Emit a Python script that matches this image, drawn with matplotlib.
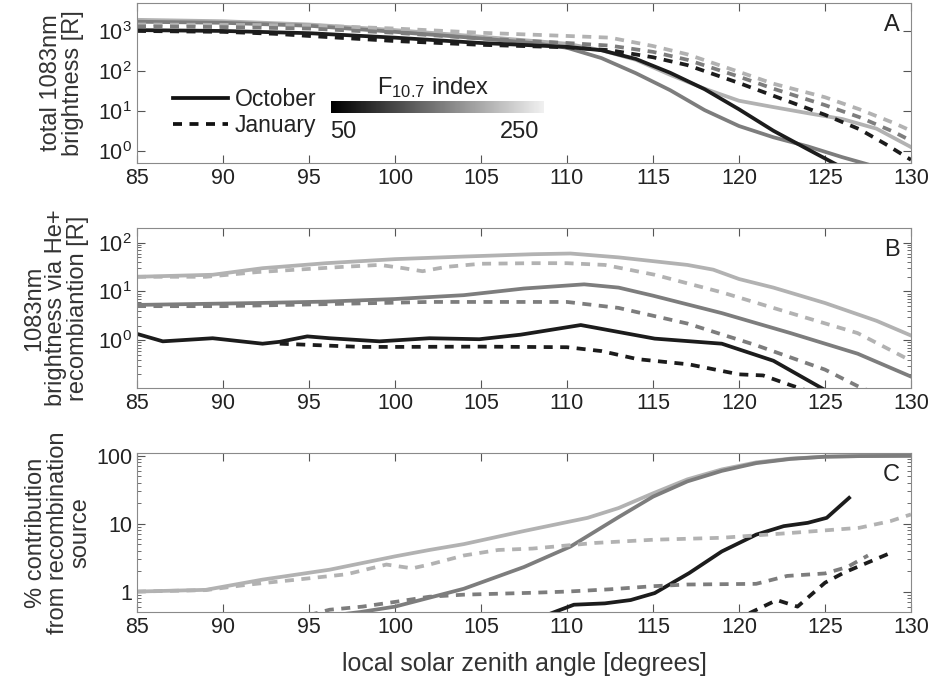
import numpy as np
from matplotlib import pyplot as plt
from matplotlib.lines import Line2D
from matplotlib import ticker

plt.rcParams['font.family'] = ['Liberation Sans', 'DejaVu Sans']
plt.rcParams['mathtext.fontset'] = 'custom'
plt.rcParams['mathtext.rm'] = 'Liberation Sans'
plt.rcParams['mathtext.it'] = 'Liberation Sans'

# F10.7 levels -> grey shade
f107_levels = [50, 150, 250]
shade = {50: '#1c1c1c', 150: '#7d7d7d', 250: '#b2b2b2'}

# ---- panel A: total 1083nm brightness [R] ----
a_oct_50_x = [85, 90, 95, 100, 105, 110, 112, 114, 116, 118, 120, 122, 124, 125.5, 126.5]
a_oct_50 = [1050, 1000, 880, 680, 500, 400, 330, 200, 90, 35, 11, 3.2, 1.1, 0.5, 0.3]
a_oct_150_x = [85, 90, 95, 100, 105, 108, 110, 112, 114, 116, 118, 120, 122, 124, 126, 128]
a_oct_150 = [1700, 1600, 1350, 950, 650, 500, 380, 210, 88, 33, 10.5, 4.2, 2.2, 1.3, 0.7, 0.4]
a_oct_250_x = [85, 90, 95, 100, 105, 110, 112, 114, 116, 118, 120, 122, 124, 126, 128, 130]
a_oct_250 = [1900, 1750, 1450, 1050, 720, 480, 330, 190, 80, 36, 18, 12.5, 8.8, 6.3, 3.6, 1.25]
a_jan_50_x = [85, 90, 93, 95, 100, 105, 110, 112.5, 115, 117, 120, 122, 125, 127, 128.5, 130]
a_jan_50 = [1000, 950, 850, 750, 560, 450, 390, 330, 220, 140, 50, 24, 8, 3.5, 1.5, 0.6]
a_jan_150_x = [85, 90, 95, 100, 105, 110, 112.5, 115, 117, 120, 122, 125, 127, 129, 130]
a_jan_150 = [1300, 1250, 1150, 900, 650, 500, 430, 300, 190, 72, 36, 14, 7, 3, 1.8]
a_jan_250_x = [85, 90, 95, 100, 105, 110, 112.5, 115, 117, 120, 122, 125, 127, 129, 130]
a_jan_250 = [1450, 1420, 1380, 1150, 900, 750, 680, 420, 260, 95, 48, 22, 11, 5, 3.2]

# ---- panel B: 1083nm brightness via He+ recombination [R] ----
b_oct_50_x = [85, 86.5, 89.4, 92.3, 93.3, 94.9, 96.2, 99.1, 102, 104.9, 107.3, 110.8, 115.1, 119, 122, 124.9, 125.5]
b_oct_50 = [1.35, 0.95, 1.1, 0.85, 0.93, 1.2, 1.1, 0.95, 1.1, 1.05, 1.3, 2.05, 1.08, 0.85, 0.38, 0.1, 0.08]
b_oct_150_x = [85, 92, 96, 100, 104, 107.5, 111, 113, 115, 119, 123, 126.9, 130]
b_oct_150 = [5.3, 5.8, 6.2, 7.0, 8.4, 11.5, 14, 12, 8.2, 3.6, 1.4, 0.53, 0.18]
b_oct_250_x = [85, 89.4, 92.3, 96, 100, 104, 108, 110.2, 113, 117, 118.5, 120, 122, 125, 128, 130]
b_oct_250 = [20, 22, 30, 38, 46, 52, 58, 60, 50, 35, 28, 18, 12, 5.8, 2.5, 1.25]
b_jan_50_x = [93.3, 95.2, 98, 100, 105, 110, 112, 114.1, 117.1, 120, 121.4, 123, 124.5]
b_jan_50 = [0.85, 0.8, 0.73, 0.73, 0.74, 0.72, 0.6, 0.41, 0.32, 0.2, 0.19, 0.12, 0.08]
b_jan_150_x = [85, 90, 96, 102, 110, 113, 117, 121, 125, 127, 128]
b_jan_150 = [5.0, 5.0, 5.5, 6.1, 6.1, 4.6, 2.2, 0.79, 0.25, 0.11, 0.08]
b_jan_250_x = [85, 89, 92, 94.3, 97, 99.1, 100.5, 101.6, 103, 105, 108, 110, 112.2, 115.1, 119, 123, 126.9, 130]
b_jan_250 = [20, 20, 25, 28, 32, 35, 30, 26, 32, 37, 38, 38, 35, 22, 9.6, 3.6, 1.4, 0.38]

# ---- panel C: % contribution from recombination source ----
c_oct_50_x = [109, 110.4, 112.2, 113.7, 115.1, 117.1, 119, 121, 122.6, 124, 125.1, 126.4]
c_oct_50 = [0.47, 0.64, 0.67, 0.75, 0.95, 1.87, 3.9, 6.9, 9.2, 10.3, 12.2, 24]
c_oct_150_x = [96.5, 98, 100, 104, 107.5, 110.2, 113, 115, 117, 119, 121, 123, 125, 127, 130]
c_oct_150 = [0.45, 0.5, 0.6, 1.1, 2.3, 4.6, 12.5, 25, 42, 60, 78, 90, 97, 99, 100]
c_oct_250_x = [85, 89, 92.3, 96.2, 100, 102, 104, 107.5, 111.2, 113, 115, 117, 119, 121, 123, 125, 127, 130]
c_oct_250 = [1.0, 1.06, 1.5, 2.1, 3.3, 4.1, 5.0, 7.8, 12.2, 17, 28, 45, 63, 80, 91, 97, 99, 100]
c_jan_50_x = [120.6, 122.2, 123.4, 125, 126.1, 128.8]
c_jan_50 = [0.48, 0.75, 0.6, 1.35, 1.9, 3.7]
c_jan_150_x = [95, 96.2, 98.1, 100.1, 102, 104, 108, 110, 112.5, 115, 117, 121, 122.8, 125, 126.3, 127.5]
c_jan_150 = [0.45, 0.54, 0.6, 0.71, 0.84, 0.9, 0.96, 1.0, 1.08, 1.2, 1.27, 1.3, 1.7, 1.85, 2.3, 3.4]
c_jan_250_x = [85, 89, 91.4, 94.3, 97.2, 99.5, 101, 102, 104, 106, 108, 111.6, 115, 119, 123, 127, 128.8, 130]
c_jan_250 = [1.0, 1.05, 1.26, 1.5, 1.8, 2.5, 2.2, 2.5, 3.4, 4.1, 4.3, 5.2, 5.8, 6.2, 7.3, 8.7, 10.9, 13.7]

panels = [
    dict(oct={50: (a_oct_50_x, a_oct_50), 150: (a_oct_150_x, a_oct_150), 250: (a_oct_250_x, a_oct_250)},
         jan={50: (a_jan_50_x, a_jan_50), 150: (a_jan_150_x, a_jan_150), 250: (a_jan_250_x, a_jan_250)},
         ylim=(0.5, 5000), yticks=[1, 10, 100, 1000], sci=True, tag='A',
         ylabel='total 1083nm\nbrightness [R]'),
    dict(oct={50: (b_oct_50_x, b_oct_50), 150: (b_oct_150_x, b_oct_150), 250: (b_oct_250_x, b_oct_250)},
         jan={50: (b_jan_50_x, b_jan_50), 150: (b_jan_150_x, b_jan_150), 250: (b_jan_250_x, b_jan_250)},
         ylim=(0.105, 200), yticks=[1, 10, 100], sci=True, tag='B',
         ylabel='1083nm\nbrightness via He+\nrecombiantion [R]'),
    dict(oct={50: (c_oct_50_x, c_oct_50), 150: (c_oct_150_x, c_oct_150), 250: (c_oct_250_x, c_oct_250)},
         jan={50: (c_jan_50_x, c_jan_50), 150: (c_jan_150_x, c_jan_150), 250: (c_jan_250_x, c_jan_250)},
         ylim=(0.5, 110), yticks=[1, 10, 100], sci=False, tag='C',
         ylabel='% contribution\nfrom recombination\nsource'),
]

W, H = 930, 680
fig = plt.figure(figsize=(W / 100, H / 100), dpi=100)

# axes boxes in pixels: (top, bottom)
boxes = [(3, 163), (228, 388), (453, 612)]
left_px, right_px = 137, 911
label_x = [62, 56, 58]
LW = 2.7
DASH = (0, (2.4, 2.0))

axes = []
for p, (top, bot), lx in zip(panels, boxes, label_x):
    ax = fig.add_axes([left_px / W, 1 - bot / H, (right_px - left_px) / W, (bot - top) / H])
    axes.append(ax)
    for f in f107_levels[::-1]:
        x, y = p['oct'][f]
        ax.plot(x, y, color=shade[f], lw=LW)
    # January dashes drawn over the October lines
    for f in f107_levels[::-1]:
        x, y = p['jan'][f]
        ax.plot(x, y, color=shade[f], lw=LW, ls=DASH, solid_capstyle='butt')
    ax.set_yscale('log')
    ax.set_xlim(85, 130)
    ax.set_ylim(*p['ylim'])
    ax.set_xticks(np.arange(85, 131, 5))
    ax.set_yticks(p['yticks'])
    if p['sci']:
        ax.yaxis.set_major_formatter(ticker.LogFormatterSciNotation())
    else:
        ax.set_yticklabels([str(v) for v in p['yticks']])
    ax.yaxis.set_minor_formatter(ticker.NullFormatter())
    ax.tick_params(which='both', direction='in', top=True, right=True,
                   colors='#555555', labelcolor='#222222', labelsize=15.5)
    ax.tick_params(which='major', length=6)
    ax.tick_params(which='minor', length=3)
    for s in ax.spines.values():
        s.set_color('#8a8a8a')
    ax.text(0.985, 0.93, p['tag'], transform=ax.transAxes, ha='right', va='top',
            fontsize=17, color='#222222')
    fig.text(lx / W, 1 - (top + bot) / 2 / H, p['ylabel'], rotation=90, ha='center', va='center',
             fontsize=17, color='#333333', linespacing=1.0)

axes[2].set_xlabel('local solar zenith angle [degrees]', fontsize=18, color='#333333', labelpad=10)

# legend for month line styles
handles = [Line2D([], [], color='#111111', lw=LW),
           Line2D([], [], color='#111111', lw=LW, ls=DASH)]
axes[0].legend(handles, ['October', 'January'], loc='upper left', bbox_to_anchor=(0.02, 0.6),
               frameon=False, fontsize=16.5, handlelength=2.4, handletextpad=0.3, labelspacing=0.15,
               labelcolor='#222222')

# F10.7 grey scale bar
cax = fig.add_axes([331 / W, 1 - 113.5 / H, 212 / W, 12 / H])
grad = np.linspace(f107_levels[0], f107_levels[-1], 256)[None, :]
cax.imshow(grad, aspect='auto', cmap='gray', vmin=50, vmax=262,
           extent=[f107_levels[0], f107_levels[-1], 0, 1])
cax.set_axis_off()
fig.text(433 / W, 1 - 88 / H, r'F$_{\mathregular{10.7}}$ index', ha='center', va='center',
         fontsize=17, color='#222222')
fig.text(343 / W, 1 - 132 / H, str(f107_levels[0]), ha='center', va='center',
         fontsize=17, color='#222222')
fig.text(520 / W, 1 - 132 / H, str(f107_levels[-1]), ha='center', va='center',
         fontsize=17, color='#222222')

fig.savefig('out.png', dpi=100)
